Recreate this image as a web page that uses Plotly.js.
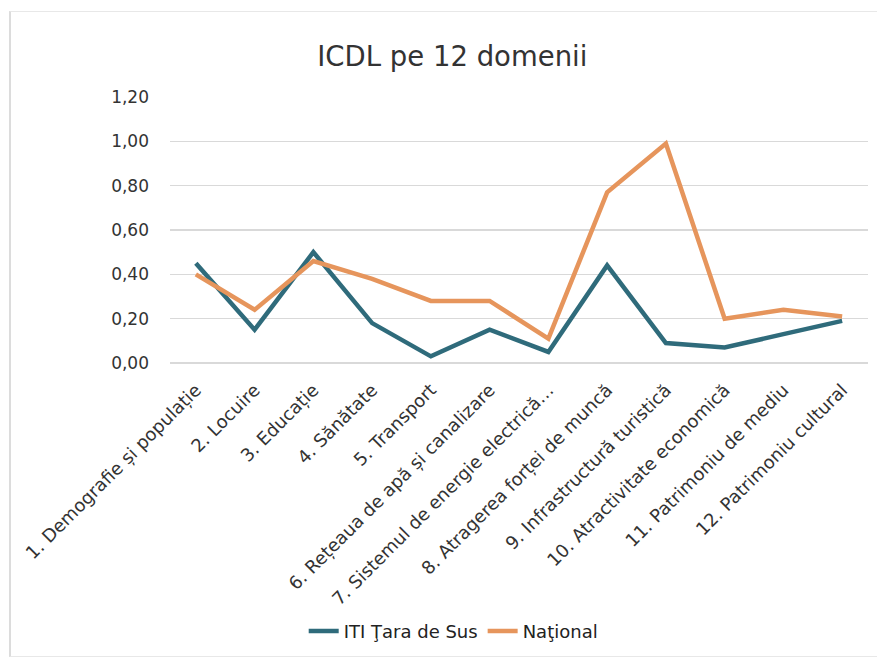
<!DOCTYPE html>
<html>
<head>
<meta charset="utf-8">
<script src="https://cdn.plot.ly/plotly-3.0.1.min.js"></script>
<style>
  html, body { margin: 0; padding: 0; background: #ffffff; }
  #frame { position: absolute; left: 9px; top: 11px; width: 868px; height: 646px; border-left: 2px solid #dcdcdc; border-top: 1px solid #e8e8e8; border-bottom: 1px solid #e8e8e8; box-sizing: border-box; pointer-events: none; }
  #chart { width: 880px; height: 659px; }
</style>
</head>
<body>
<div id="chart"></div>
<div id="frame"></div>
<script>
const categories = [
  "1. Demografie și populație",
  "2. Locuire",
  "3. Educație",
  "4. Sănătate",
  "5. Transport",
  "6. Rețeaua de apă și canalizare",
  "7. Sistemul de energie electrică…",
  "8. Atragerea forței de muncă",
  "9. Infrastructură turistică",
  "10. Atractivitate economică",
  "11. Patrimoniu de mediu",
  "12. Patrimoniu cultural"
];
const itiTaraDeSus = [0.45, 0.15, 0.50, 0.18, 0.03, 0.15, 0.05, 0.44, 0.09, 0.07, 0.13, 0.19];
const national     = [0.40, 0.24, 0.46, 0.38, 0.28, 0.28, 0.11, 0.77, 0.99, 0.20, 0.24, 0.21];
const yTickVals = [0, 0.2, 0.4, 0.6, 0.8, 1.0, 1.2];
const seriesNames = ["ITI Ţara de Sus", "Naţional"];

const FONT = "DejaVu Sans, Liberation Sans, Arial, sans-serif";

const traces = [
  {
    x: categories, y: itiTaraDeSus, name: seriesNames[0], type: "scatter", mode: "lines",
    line: { color: "#2f6b7b", width: 4.5 }
  },
  {
    x: categories, y: national, name: seriesNames[1], type: "scatter", mode: "lines",
    line: { color: "#e6955c", width: 4.5 }
  }
];

const layout = {
  width: 880, height: 659,
  margin: { l: 170, r: 12, t: 97, b: 296 },
  paper_bgcolor: "#ffffff", plot_bgcolor: "#ffffff",
  separators: ",.",
  font: { family: FONT, color: "#333333" },
  title: {
    text: "ICDL pe 12 domenii",
    font: { size: 27.5, color: "#333333", family: FONT },
    x: 0.514, xanchor: "center", xref: "container",
    y: 0.915, yanchor: "middle", yref: "container"
  },
  xaxis: {
    type: "category",
    range: [-0.44, 11.44],
    tickangle: -45,
    tickfont: { size: 18, color: "#333333" },
    showgrid: false, showline: false, zeroline: false, ticks: "",
    ticklabelstandoff: 12,
    automargin: false
  },
  yaxis: {
    range: [0, 1.2],
    tickvals: yTickVals,
    tickformat: ".2f",
    tickfont: { size: 17, color: "#333333" },
    showgrid: true, gridcolor: "#d9d9d9", gridwidth: 1.5,
    zeroline: true, zerolinecolor: "#d9d9d9", zerolinewidth: 1.5,
    showline: false, ticks: "", ticklabelstandoff: 20,
    automargin: false
  },
  showlegend: true,
  legend: {
    orientation: "h", x: 0.515, xanchor: "center", xref: "container",
    y: 0.042, yanchor: "middle", yref: "container",
    font: { size: 18, color: "#222222" },
    itemwidth: 30
  }
};

Plotly.newPlot("chart", traces, layout, { displayModeBar: false, staticPlot: true });
</script>
</body>
</html>
